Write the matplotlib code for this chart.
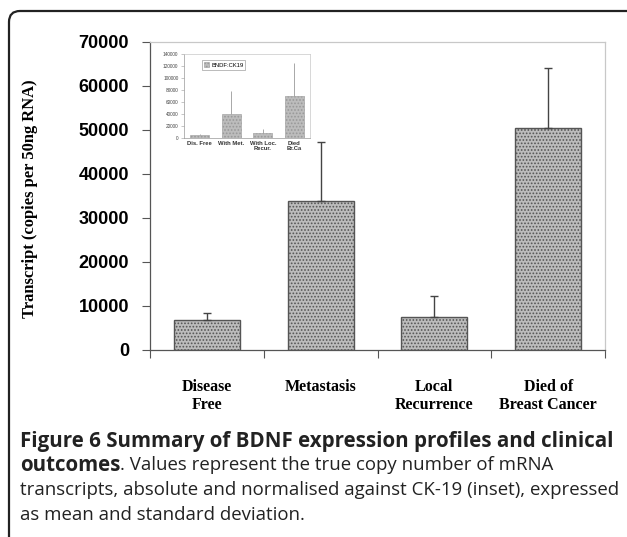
import matplotlib.pyplot as plt
from matplotlib.patches import FancyBboxPatch
import numpy as np

# main chart data
groups = ['Disease\nFree', 'Metastasis', 'Local\nRecurrence', 'Died of\nBreast Cancer']
means = [6800, 33900, 7500, 50400]
sds = [1600, 13400, 4800, 13700]

# inset data (normalised against CK-19)
inset_groups = ['Dis. Free', 'With Met.', 'With Loc.\nRecur.', 'Died\nBr.Ca']
inset_means = [4500, 40000, 7800, 70000]
inset_sds = [1500, 39000, 7500, 54500]

bar_face = '#bcbcbc'
bar_edge = '#555555'
plt.rcParams['hatch.color'] = '#8c8c8c'
plt.rcParams['hatch.linewidth'] = 0.8

fig = plt.figure(figsize=(6.27, 5.37), dpi=100)
fig.patch.set_facecolor('white')

# rounded frame round the figure panel (display coords, origin bottom-left)
frame = FancyBboxPatch((9, -100), 700, 626, boxstyle='round,pad=0,rounding_size=11',
                       transform=None, fill=False, edgecolor='#222222', lw=1.6)
fig.patches.append(frame)

# main axes
ax = fig.add_axes([150/627, 1 - 350/537, 455/627, 308/537])
x = np.arange(len(groups))
ax.bar(x, means, width=0.58, color=bar_face, edgecolor=bar_edge, lw=1.0,
       hatch='.....', zorder=2)
ax.errorbar(x, means, yerr=[np.zeros(len(sds)), sds], fmt='none', ecolor='#444444',
            elinewidth=1.0, capsize=3, capthick=1.0, zorder=3)
ax.set_xlim(-0.5, 3.5)
ax.set_ylim(0, 70000)
ax.set_yticks(np.arange(0, 70001, 10000))
ax.set_yticklabels([str(v) for v in range(0, 70001, 10000)],
                   fontfamily='Liberation Sans', fontweight='bold', fontsize=13)
ax.tick_params(axis='y', direction='out', length=6, width=0.8, color='#555555', pad=9)
ax.set_xticks(np.arange(-0.5, 3.6, 1.0))
ax.set_xticklabels([])
ax.tick_params(axis='x', which='major', direction='out', length=6, width=0.8, color='#555555')
ax.set_xticks(x, minor=True)
ax.set_xticklabels(groups, minor=True, fontfamily='Liberation Serif', fontweight='bold',
                   fontsize=11.5, linespacing=1.15)
ax.tick_params(axis='x', which='minor', length=0, pad=21)
for s in ['left', 'bottom']:
    ax.spines[s].set_color('#555555')
    ax.spines[s].set_linewidth(0.9)
for s in ['top', 'right']:
    ax.spines[s].set_color('#c8c8c8')
    ax.spines[s].set_linewidth(0.9)
fig.text(30/627, 1 - 199/537, 'Transcript (copies per 50ng RNA)', rotation=90,
         ha='center', va='center', fontfamily='Liberation Serif', fontweight='bold',
         fontsize=11.9)

# inset axes
ins = fig.add_axes([184/627, 1 - 138/537, 126/627, 84/537])
xi = np.arange(len(inset_groups))
ins.bar(xi, inset_means, width=0.6, color=bar_face, edgecolor='#999999', lw=0.4,
        hatch='.....', zorder=2, label='BNDF:CK19')
ins.errorbar(xi, inset_means, yerr=[np.zeros(len(inset_sds)), inset_sds], fmt='none',
             ecolor='#9a9a9a', elinewidth=0.6, capsize=0, zorder=3)
ins.set_xlim(-0.5, 3.5)
ins.set_ylim(0, 140000)
ins.set_yticks(np.arange(0, 140001, 20000))
ins.set_yticklabels([str(v) for v in range(0, 140001, 20000)],
                    fontfamily='Liberation Sans', fontsize=3.4, color='#444444')
ins.tick_params(axis='y', direction='out', length=2, width=0.4, color='#999999', pad=2)
ins.set_xticks(xi)
ins.set_xticklabels(inset_groups, fontfamily='Liberation Sans', fontweight='bold',
                    fontsize=4.2, color='#333333', linespacing=1.1)
ins.tick_params(axis='x', length=0, pad=2)
for s in ins.spines.values():
    s.set_color('#c8c8c8')
    s.set_linewidth(0.5)
ins.spines['left'].set_color('#999999')
ins.spines['bottom'].set_color('#999999')
leg = ins.legend(loc='upper left', bbox_to_anchor=(0.12, 0.96), frameon=True,
                 fancybox=False, handlelength=0.8, handleheight=0.8,
                 handletextpad=0.4, borderpad=0.35,
                 prop={'family': 'Liberation Sans', 'size': 4.2})
leg.get_frame().set_edgecolor('#888888')
leg.get_frame().set_linewidth(0.5)

# caption
cap_font = 'Open Sans'
cap_col = '#222222'
bold_size = 14.8
reg_size = 13.4
y0 = 1 - 441/537
dy = 24.5/537
fig.text(20/627, y0, 'Figure 6 Summary of BDNF expression profiles and clinical',
         fontfamily=cap_font, fontweight='bold', fontsize=bold_size, va='center', color=cap_col)
tb = fig.text(20/627, y0 - dy, 'outcomes', fontfamily=cap_font, fontweight='bold',
              fontsize=bold_size, va='center', color=cap_col)
fig.canvas.draw()
bb = tb.get_window_extent()
fig.text(bb.x1 / 627, y0 - dy, '. Values represent the true copy number of mRNA',
         fontfamily=cap_font, fontsize=reg_size, va='center', color=cap_col)
fig.text(20/627, y0 - 2*dy, 'transcripts, absolute and normalised against CK-19 (inset), expressed',
         fontfamily=cap_font, fontsize=reg_size, va='center', color=cap_col)
fig.text(20/627, y0 - 3*dy, 'as mean and standard deviation.',
         fontfamily=cap_font, fontsize=reg_size, va='center', color=cap_col)

fig.savefig('out.png', dpi=100)
